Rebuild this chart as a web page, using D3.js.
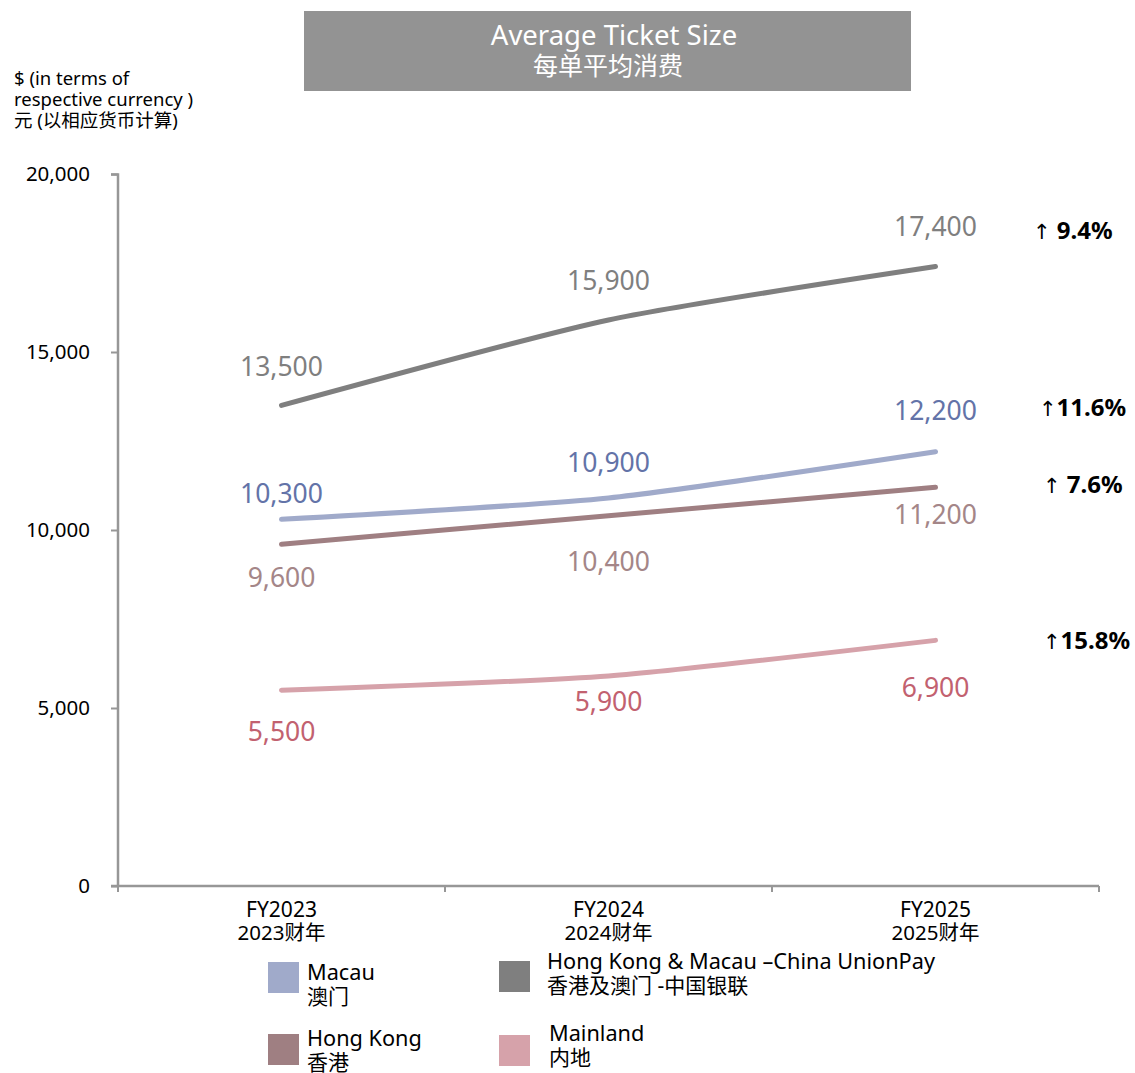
<!DOCTYPE html>
<html>
<head>
<meta charset="utf-8">
<script src="https://cdn.jsdelivr.net/npm/d3@7"></script>
<style>
  body { margin: 0; background: #fff; }
  svg text { font-family: "Noto Sans", "Noto Sans CJK SC", sans-serif; }
</style>
</head>
<body>
<div id="chart"></div>
<script>
  // Data
  var years = ["FY2023", "FY2024", "FY2025"];
  var yearsCn = ["2023财年", "2024财年", "2025财年"];
  var unionPay = [13500, 15900, 17400];
  var macau = [10300, 10900, 12200];
  var hongKong = [9600, 10400, 11200];
  var mainland = [5500, 5900, 6900];
  var growth = ["9.4%", "11.6%", "7.6%", "15.8%"];
  var yTicks = [0, 5000, 10000, 15000, 20000];

  var width = 1135, height = 1073;

  var series = [
    { name: "Hong Kong & Macau \u2013China UnionPay", cn: "香港及澳门 -中国银联", values: unionPay,
      line: "#7f7f7f", label: "#7f7f7f", offsets: [-39, -39, -40], growth: growth[0] },
    { name: "Macau", cn: "澳门", values: macau,
      line: "#a0aaca", label: "#6373a8", offsets: [-26, -35, -41], growth: growth[1] },
    { name: "Hong Kong", cn: "香港", values: hongKong,
      line: "#9f7f82", label: "#a48688", offsets: [33, 46, 27], growth: growth[2] },
    { name: "Mainland", cn: "内地", values: mainland,
      line: "#d6a2aa", label: "#c2616f", offsets: [42, 26, 47], growth: growth[3] }
  ];

  var svg = d3.select("#chart").append("svg")
    .attr("width", width).attr("height", height);

  // Scales
  var x = d3.scaleBand().domain(years).range([118, 1099]);
  var y = d3.scaleLinear().domain([0, 20000]).range([886, 174]);

  // Title box
  svg.append("rect").attr("x", 304).attr("y", 11).attr("width", 607).attr("height", 80)
    .attr("fill", "#939393");
  svg.append("text").attr("x", 614).attr("y", 45).attr("text-anchor", "middle")
    .attr("fill", "#fff").attr("font-size", 27.5).text("Average Ticket Size");
  svg.append("text").attr("x", 608).attr("y", 75).attr("text-anchor", "middle")
    .attr("fill", "#fff").attr("font-size", 25).text("每单平均消费");

  // Unit label
  var unit = svg.append("text").attr("font-size", 18.5).attr("fill", "#000");
  unit.append("tspan").attr("x", 14).attr("y", 85).text("$ (in terms of");
  unit.append("tspan").attr("x", 14).attr("y", 106).text("respective currency )");
  unit.append("tspan").attr("x", 14).attr("y", 127).text("元 (以相应货币计算)");

  // Y axis
  var yAxis = d3.axisLeft(y).tickValues(yTicks).tickSize(7).tickPadding(21)
    .tickFormat(d3.format(","));
  var gy = svg.append("g").attr("transform", "translate(118,0)").call(yAxis);
  gy.select(".domain").attr("stroke", "#979797").attr("stroke-width", 2.5)
    .attr("d", "M-7,174.5H0V886");
  gy.selectAll(".tick line").attr("stroke", "#979797").attr("stroke-width", 2);
  gy.selectAll(".tick text").attr("font-family", "DejaVu Sans").attr("font-size", 20.5)
    .attr("fill", "#000");

  // X axis
  var gx = svg.append("g").attr("transform", "translate(0,886)");
  gx.append("line").attr("x1", 111).attr("x2", 1099).attr("stroke", "#979797").attr("stroke-width", 2.5);
  var bounds = years.map(function(d) { return x(d); }).concat([x.range()[1]]);
  gx.selectAll("line.tk").data(bounds).enter().append("line").attr("class", "tk")
    .attr("x1", function(d) { return d; }).attr("x2", function(d) { return d; })
    .attr("y1", 0).attr("y2", 6).attr("stroke", "#979797").attr("stroke-width", 2);
  years.forEach(function(yr, i) {
    var cx = x(yr) + x.bandwidth() / 2;
    gx.append("text").attr("x", cx).attr("y", 31).attr("text-anchor", "middle")
      .attr("font-family", "Liberation Sans Narrow, Liberation Sans").attr("font-size", 21)
      .text(yr);
    gx.append("text").attr("x", cx).attr("y", 54).attr("text-anchor", "middle")
      .attr("font-family", "Liberation Sans Narrow, Noto Sans CJK SC").attr("font-size", 20.5)
      .text(yearsCn[i]);
  });

  // Lines
  var line = d3.line()
    .x(function(d, i) { return x(years[i]) + x.bandwidth() / 2; })
    .y(function(d) { return y(d); })
    .curve(d3.curveCardinal.tension(0.4));

  series.forEach(function(s) {
    svg.append("path").datum(s.values).attr("d", line)
      .attr("fill", "none").attr("stroke", s.line).attr("stroke-width", 5)
      .attr("stroke-linecap", "round");
  });

  // Data labels
  series.forEach(function(s) {
    s.values.forEach(function(v, i) {
      svg.append("text")
        .attr("x", x(years[i]) + x.bandwidth() / 2)
        .attr("y", y(v) + s.offsets[i])
        .attr("dy", "0.35em")
        .attr("text-anchor", "middle")
        .attr("font-size", 26.5)
        .attr("fill", s.label)
        .text(d3.format(",")(v));
    });
  });

  // Growth labels
  var growthX = [1033, 1039, 1043, 1043];
  series.forEach(function(s, i) {
    var last = s.values[s.values.length - 1];
    var yPos = y(last) + (i === 0 ? -36 : (i === 1 ? -44 : (i === 2 ? -3 : 0)));
    var t = svg.append("text").attr("x", growthX[i]).attr("y", yPos).attr("dy", "0.35em")
      .attr("font-size", 24).attr("fill", "#000");
    t.append("tspan").attr("font-family", "DejaVu Sans").attr("font-size", 21).text("\u2191");
    t.append("tspan").attr("font-weight", "bold")
      .text((s.growth.length < 5 ? "\u00a0" : "") + s.growth);
  });

  // Legend
  var legendPos = [
    { sx: 499, sy: 961, tx: 547, ty: 969 },
    { sx: 268, sy: 962, tx: 307, ty: 980 },
    { sx: 268, sy: 1034, tx: 307, ty: 1046 },
    { sx: 499, sy: 1035, tx: 549, ty: 1041 }
  ];
  series.forEach(function(s, i) {
    var p = legendPos[i];
    svg.append("rect").attr("x", p.sx).attr("y", p.sy).attr("width", 31).attr("height", 31)
      .attr("fill", s.line);
    svg.append("text").attr("x", p.tx).attr("y", p.ty).attr("font-size", 21.7).attr("fill", "#000")
      .text(s.name);
    svg.append("text").attr("x", p.tx).attr("y", p.ty + 24).attr("font-size", 21).attr("fill", "#000")
      .text(s.cn);
  });
</script>
</body>
</html>
